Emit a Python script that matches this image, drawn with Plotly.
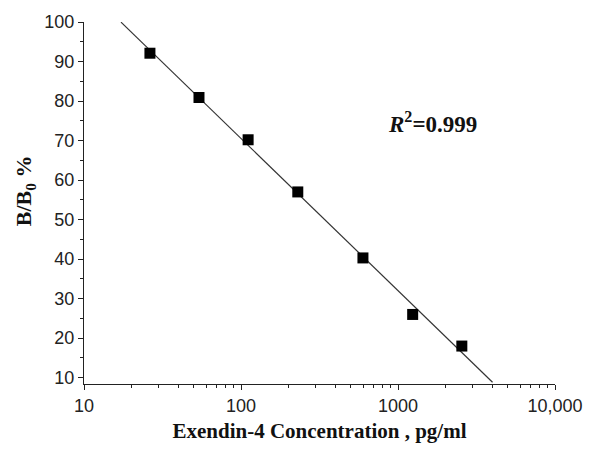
import numpy as np
import plotly.graph_objects as go

# Data (x positions as they appear on the log axis)
concentration = [26.3, 54, 111, 230, 598, 1240, 2550]   # pg/ml
b_over_b0 = [92.1, 80.9, 70.2, 57.0, 40.3, 26.0, 18.0]  # %
fit_x_range = [17.2, 4000]
r2_text = "0.999"

x_tickvals = [10, 100, 1000, 10000]
x_ticktext = ["10", "100", "1000", "10,000"]
x_minor = [m * 10 ** d for d in range(1, 4) for m in range(2, 10)]
y_tickvals = [10, 20, 30, 40, 50, 60, 70, 80, 90, 100]
y_minor = [15, 25, 35, 45, 55, 65, 75, 85, 95]

# linear fit in log10(x)
lx = np.log10(concentration)
slope, intercept = np.polyfit(lx, b_over_b0, 1)
fx = np.logspace(np.log10(fit_x_range[0]), np.log10(fit_x_range[1]), 50)
fy = slope * np.log10(fx) + intercept

fig = go.Figure()
fig.add_trace(go.Scatter(x=fx, y=fy, mode="lines",
                         line=dict(color="#333333", width=1.2),
                         hoverinfo="skip", showlegend=False))
fig.add_trace(go.Scatter(x=concentration, y=b_over_b0, mode="markers",
                         marker=dict(symbol="square", size=11, color="black"),
                         showlegend=False))

tick_font = dict(family="Liberation Sans, Arial, sans-serif", size=18, color="#222")
serif = "Liberation Serif, Times New Roman, serif"
title_font = dict(family=serif, size=21, color="#111")

fig.update_layout(
    width=605, height=450,
    margin=dict(l=84, r=50, t=21, b=65),
    paper_bgcolor="white", plot_bgcolor="white",
    xaxis=dict(type="log", range=[1, 4], tickmode="array",
               tickvals=x_tickvals, ticktext=x_ticktext,
               ticks="outside", ticklen=5, tickwidth=1, tickcolor="#222",
               minor=dict(tickmode="array", tickvals=x_minor, ticks="outside",
                          ticklen=3, tickcolor="#222"),
               showline=True, linecolor="#222", linewidth=1.2,
               showgrid=False, zeroline=False, tickfont=tick_font,
               title=dict(text="<b>Exendin-4 Concentration , pg/ml</b>",
                          font=title_font, standoff=8)),
    yaxis=dict(range=[8.4, 100], tickmode="array", tickvals=y_tickvals,
               ticks="outside", ticklen=5, tickwidth=1, tickcolor="#222",
               minor=dict(tickmode="array", tickvals=y_minor, ticks="outside",
                          ticklen=3, tickcolor="#222"),
               showline=True, linecolor="#222", linewidth=1.2,
               showgrid=False, zeroline=False, tickfont=tick_font),
    annotations=[
        dict(x=0.641, y=0.722, xref="paper", yref="paper",
             xanchor="left", yanchor="middle", showarrow=False,
             text="<b><i>R</i><sup>2</sup>=" + r2_text + "</b>",
             font=dict(family=serif, size=23, color="#111")),
        dict(x=-0.125, y=0.533, xref="paper", yref="paper",
             xanchor="center", yanchor="middle", showarrow=False, textangle=-90,
             text="<b>B/B<sub>0</sub> %</b>",
             font=dict(family=serif, size=22, color="#111")),
    ],
)

fig.write_html("out.html")
